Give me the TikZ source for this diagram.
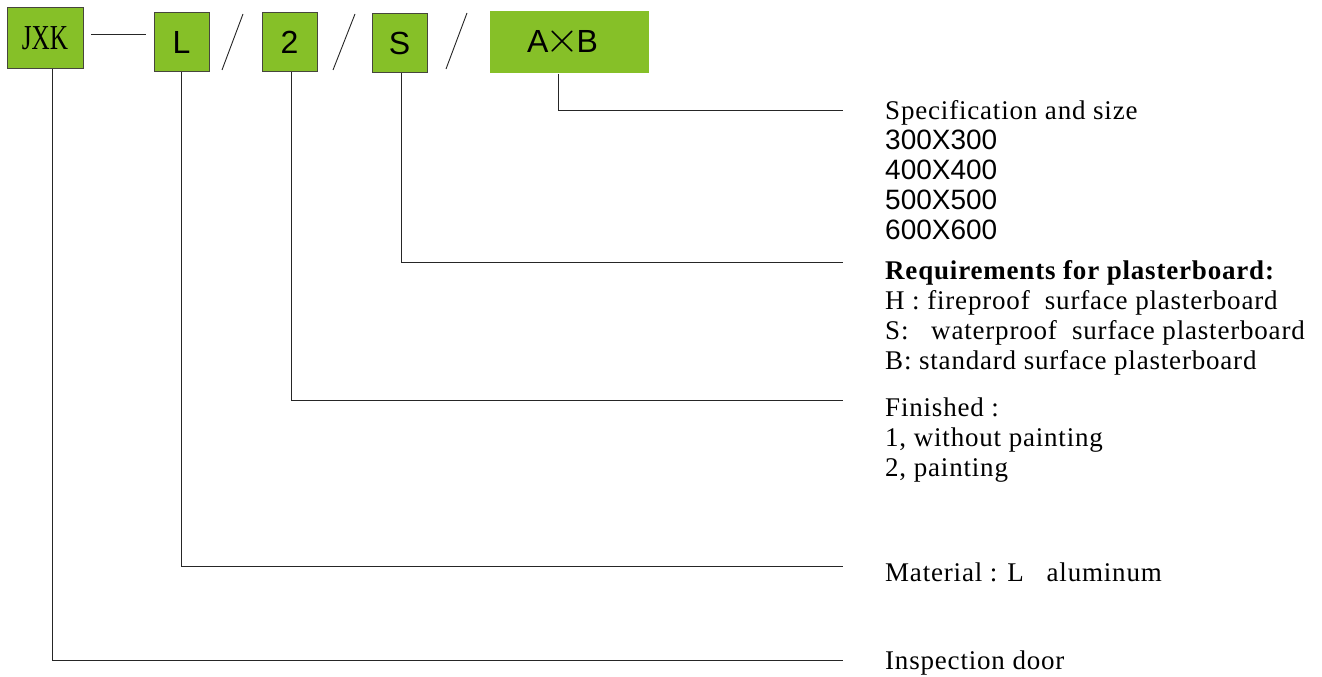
\documentclass[tikz,border=0pt]{standalone}
\usepackage{fontspec}
\usepackage{tikz}
\usetikzlibrary{positioning,calc}
\setmainfont{Liberation Serif}[LetterSpace=3]
\newfontfamily\arialf{Liberation Sans}
\newfontfamily\narrowserif{Liberation Serif}[FakeStretch=0.72]
\definecolor{leafgreen}{RGB}{134,192,40}
\definecolor{boxedge}{RGB}{70,70,60}
\tikzset{codebox/.style={draw=boxedge,fill=leafgreen,line width=1pt,inner sep=0pt,
    minimum width=55pt,minimum height=59pt,font=\arialf\fontsize{32}{32}\selectfont},
  leader/.style={draw=black!85,line width=0.9pt},
  desc/.style={anchor=north west,inner sep=0pt,align=left,font=\fontsize{27}{30}\selectfont}}

\begin{document}
\begin{tikzpicture}[x=1pt,y=-1pt]
        \useasboundingbox (0,0) rectangle (1322,677);
        \node[codebox,minimum width=76pt,minimum height=61pt,font=\narrowserif\fontsize{35}{35}\selectfont] (jxk) at (45,38) {JXK};
        \node[codebox] (mat) at (181.5,42) {L};
        \node[codebox] (fin) at (289.5,42) {2};
        \node[codebox] (req) at (399.5,43) {S};
        \node[codebox,draw=none,minimum width=159pt,minimum height=62pt] (size) at (569.5,42) {A\kern-3pt\resizebox{34pt}{!}{$\times$}\kern-3ptB\kern14pt};
        % dash and slashes
        \draw[leader] (91,34) -- (146,34);
        \draw[leader] (222,70) -- (243,14);
        \draw[leader] (333,70) -- (355,14);
        \draw[leader] (446,69) -- (467,13);
        % line ends
        \coordinate (e1) at (843,110);
        \coordinate (e2) at (843,262);
        \coordinate (e3) at (843,400);
        \coordinate (e4) at (843,566);
        \coordinate (e5) at (843,660);
        % descriptions
        \node[desc] (sizetxt) at (885,100) {Specification and size\\
          {\arialf\fontsize{28}{30}\selectfont 300X300}\\
          {\arialf\fontsize{28}{30}\selectfont 400X400}\\
          {\arialf\fontsize{28}{30}\selectfont 500X500}\\
          {\arialf\fontsize{28}{30}\selectfont 600X600}};
        \node[desc] (reqtxt) at (885,260) {\textbf{Requirements for plasterboard:}\\
          H : fireproof\ \ surface plasterboard\\
          S:\ \ \ waterproof\ \ surface plasterboard\\
          B: standard surface plasterboard};
        \node[desc] (fintxt) at (885,398) {Finished :\\1, without painting\\2, painting};
        \node[desc] (mattxt) at (885,563) {Material : L\ \ \ aluminum};
        \node[desc] (insptxt) at (885,651) {Inspection door};
        % leaders
        \draw[leader] ([xshift=-11pt]size.south) |- (e1);
        \draw[leader] ([xshift=1.5pt]req.south) |- (e2);
        \draw[leader] ([xshift=1.5pt]fin.south) |- (e3);
        \draw[leader] (mat.south) |- (e4);
        \draw[leader] ([xshift=7pt]jxk.south) |- (e5);
\end{tikzpicture}
\end{document}
